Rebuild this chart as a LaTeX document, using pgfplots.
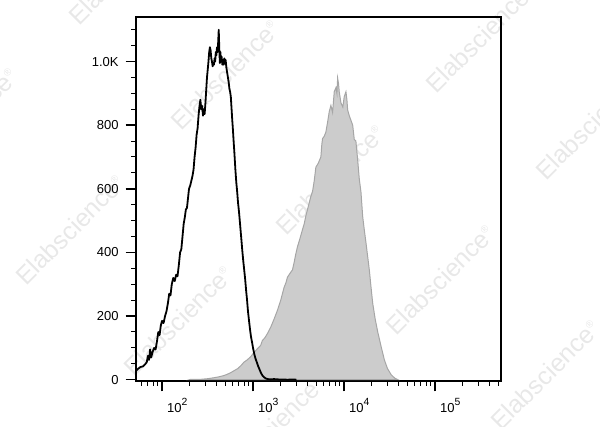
\documentclass[border=0pt]{standalone}
\usepackage{fontspec}
\setmainfont{Liberation Sans}
\usepackage{pgfplots}
\pgfplotsset{compat=1.18}
\newcommand\tp[1]{10\raisebox{3.4pt}{\fontsize{5.2}{6}\selectfont #1}}
\newcommand\wm{Elabscience\raisebox{5pt}{\fontsize{5}{5}\selectfont ®}}
\begin{document}
\begin{tikzpicture}
\useasboundingbox (0,0) rectangle (300pt,213.5pt);
\begin{scope}[every node/.style={rotate=45, text=black!9, font=\fontsize{12.5}{14}\selectfont, inner sep=0pt}]
\node at (61.5pt,228.5pt) {\wm};
\node at (-18.5pt,152pt) {\wm};
\node at (112.5pt,176pt) {\wm};
\node at (165pt,123.5pt) {\wm};
\node at (240pt,194.5pt) {\wm};
\node at (295pt,151pt) {\wm};
\node at (35pt,98.5pt) {\wm};
\node at (89pt,53pt) {\wm};
\node at (220pt,73.5pt) {\wm};
\node at (135pt,-1.5pt) {\wm};
\node at (272.5pt,26pt) {\wm};
\end{scope}
\begin{axis}[
  at={(68pt,23pt)}, anchor=south west,
  scale only axis, width=182.5pt, height=182pt,
  xmode=log, xmin=51.8, xmax=5.3e5, ymin=-4, ymax=1140,
  axis line style={line width=0.75pt},
  tick align=outside, xtick pos=bottom, ytick pos=left,
  major tick length=5.2pt, minor tick length=2.5pt,
  major tick style={line width=0.7pt, black},
  minor tick style={line width=0.5pt, black},
  xtick={100,1000,10000,100000},
  xticklabels={\tp{2},\tp{3},\tp{4},\tp{5}},
  minor xtick={60,70,80,90,200,300,400,500,600,700,800,900,2000,3000,4000,5000,6000,7000,8000,9000,20000,30000,40000,50000,60000,70000,80000,90000,200000,300000,400000,500000},
  ytick={0,200,400,600,800,1000},
  yticklabels={0,200,400,600,800,1.0K},
  minor ytick={50,100,150,250,300,350,450,500,550,650,700,750,850,900,950,1050,1100},
  tick label style={font=\fontsize{6.5}{7}\selectfont},
  xticklabel style={anchor=north west, xshift=-1pt},
  yticklabel style={anchor=east},
]
\addplot[draw=black!35, line width=0.5pt, fill=black!20] coordinates {
(200,0) (205,1) (260,1) (313,3) (368,6) (420,9) (478,13) (520,17) (567,22) (616,28)
(680,35) (740,45) (794,55) (860,62) (941,72) (1020,85) (1114,97) (1213,108) (1266,123)
(1350,132) (1438,145) (1564,165) (1700,190) (1854,218) (2015,250) (2193,290) (2300,305)
(2388,322) (2488,330) (2600,338) (2710,345) (2825,368) (2950,395) (3077,418) (3250,440)
(3496,472) (3650,490) (3805,515) (4050,545) (4316,576) (4508,592) (4700,625) (4902,668)
(5200,680) (5563,700) (5700,740) (5808,758) (6050,765) (6309,778) (6600,810) (6870,842)
(7171,862) (7480,840) (7803,905) (8145,918) (8350,900) (8499,948) (8700,930) (8853,905)
(9240,870) (9690,857) (10050,890) (10490,905) (10750,880) (10950,848) (11400,830)
(11910,815) (12440,800) (12950,755) (13490,750) (14120,690) (14710,630) (15340,590)
(16020,513) (16700,470) (17420,430) (18950,345) (19800,290) (20650,240) (22000,190)
(23450,150) (25500,105) (27750,62) (30000,35) (32890,16) (36000,5) (38990,0)
} \closedcycle;
\addplot[black, line width=0.9pt, line join=round] coordinates {
(52,28) (55,35) (58,40) (62,42) (65,48) (68,55) (70,75) (72,62) (74,95) (76,70) (79,88)
(82,100) (85,95) (88,120) (91,150) (94,140) (97,170) (100,185) (104,178) (108,200)
(112,215) (116,240) (120,270) (124,265) (128,300) (133,320) (138,310) (143,330) (148,325)
(153,360) (158,400) (163,410) (168,450) (173,490) (178,510) (183,535) (188,540) (193,570)
(198,600) (204,610) (210,625) (216,640) (222,660) (228,700) (234,730) (240,770) (246,790)
(252,830) (258,860) (264,880) (270,850) (276,860) (282,830) (288,850) (294,835) (300,870)
(306,910) (312,950) (318,975) (324,1000) (330,1030) (336,1045) (342,1035) (348,1010)
(354,1000) (360,985) (366,995) (372,990) (378,1010) (384,1000) (390,1030) (396,1020)
(402,1045) (408,1030) (414,1060) (420,1100) (426,1040) (432,995) (438,1030) (445,1000)
(452,1015) (460,990) (468,1005) (476,990) (484,1010) (492,995) (500,1005) (510,980)
(520,965) (530,950) (540,935) (550,915) (560,905) (570,890) (580,855) (590,820) (600,790)
(612,750) (625,710) (640,660) (655,620) (670,590) (685,555) (700,530) (715,500) (730,470)
(745,440) (760,410) (780,375) (800,345) (820,315) (840,280) (860,250) (880,215) (900,190)
(925,160) (950,135) (975,118) (1000,100) (1030,82) (1060,68) (1100,55) (1140,42)
(1180,32) (1220,22) (1270,13) (1320,8) (1380,4) (1450,2) (1550,1) (1700,2) (1900,1)
(2100,1) (2400,0) (2700,1) (3000,0)
};
\end{axis}
\end{tikzpicture}
\end{document}
